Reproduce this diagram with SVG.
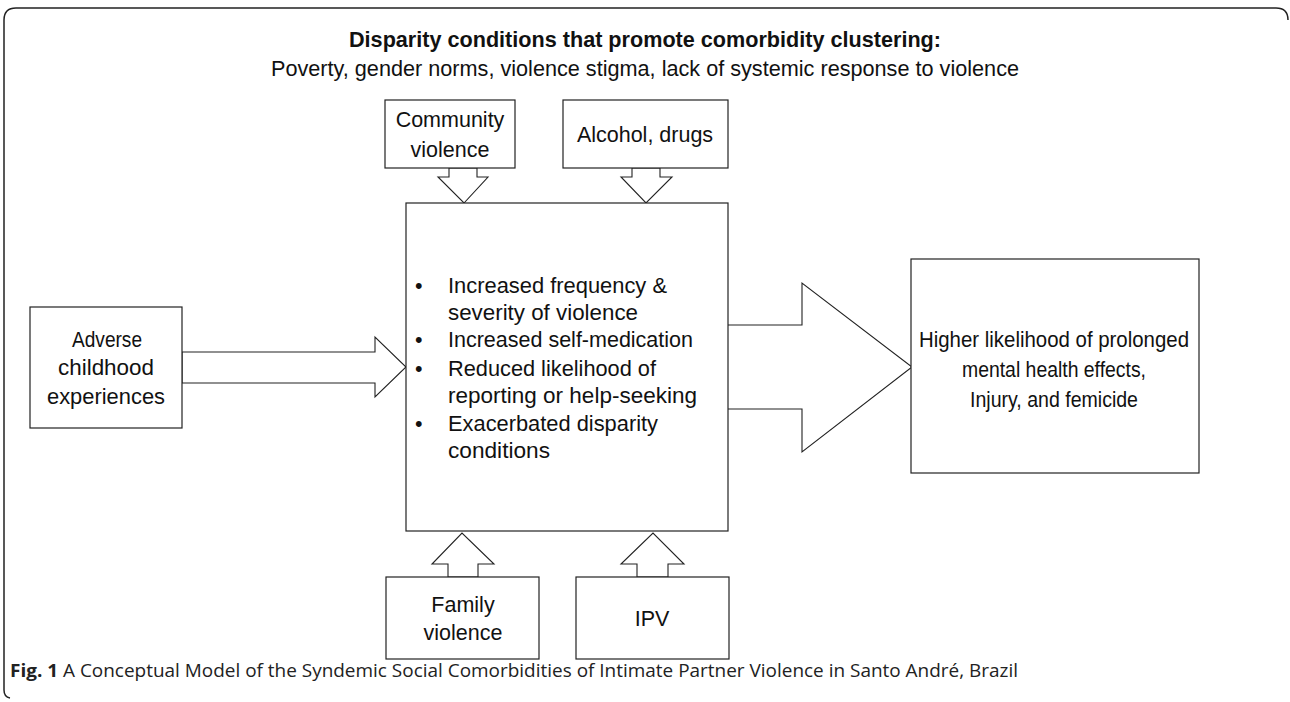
<svg xmlns="http://www.w3.org/2000/svg" width="1290" height="702" viewBox="0 0 1290 702">
<style>
.box{fill:#fff;stroke:#222;stroke-width:1.2}
.arr{fill:#fff;stroke:#222;stroke-width:1.1;stroke-linejoin:miter}
.t{font-family:"Liberation Sans",Arial,sans-serif;font-size:21.5px;fill:#111}
.c{text-anchor:middle}
.cap{font-family:"Open Sans","Liberation Sans",sans-serif;font-size:18px;fill:#222}
</style>
<rect width="1290" height="702" fill="#fff"/>
<path d="M1288 20 Q1288 8 1276 8 L16 8 Q4 8 4 20 L4 690 Q4 697 10 698" fill="none" stroke="#222" stroke-width="1.5"/>
<g id="header">
<text class="t c" x="645" y="47" font-weight="bold" textLength="592" lengthAdjust="spacingAndGlyphs">Disparity conditions that promote comorbidity clustering:</text>
<text class="t c" x="645" y="76" textLength="748" lengthAdjust="spacingAndGlyphs">Poverty, gender norms, violence stigma,  lack of systemic response to violence</text>
</g>
<g id="connectors">
<polygon class="arr" points="449,168 449,177 438,177 464,203 488,177 477,177 477,168"/>
<polygon class="arr" points="632,168 632,177 621,177 646,203 672,177 660,177 660,168"/>
<polygon class="arr" points="448,577 448,564 432,564 462,533 494,564 478,564 478,577"/>
<polygon class="arr" points="637,577 637,564 621,564 653,533 684,564 668,564 668,577"/>
<polygon class="arr" points="182,352 375,352 375,337 406,367 375,397 375,383 182,383"/>
<polygon class="arr" points="727,325 802,325 802,283 912,367 802,452 802,409 727,409"/>
</g>
<g id="community">
<rect class="box" x="385" y="100" width="130" height="68"/>
<text class="t c" x="450" y="127">Community</text>
<text class="t c" x="450" y="157">violence</text>
</g>
<g id="alcohol">
<rect class="box" x="563" y="100" width="165" height="68"/>
<text class="t c" x="645" y="142">Alcohol, drugs</text>
</g>
<g id="center">
<rect class="box" x="406" y="203" width="322" height="328"/>
<g class="t">
<text x="415" y="293">•</text><text x="448" y="293" textLength="219" lengthAdjust="spacingAndGlyphs">Increased frequency &amp;</text>
<text x="448" y="320" textLength="190" lengthAdjust="spacingAndGlyphs">severity of violence</text>
<text x="415" y="347">•</text><text x="448" y="347" textLength="245" lengthAdjust="spacingAndGlyphs">Increased self-medication</text>
<text x="415" y="376">•</text><text x="448" y="376" textLength="208" lengthAdjust="spacingAndGlyphs">Reduced likelihood of</text>
<text x="448" y="403" textLength="249" lengthAdjust="spacingAndGlyphs">reporting or help-seeking</text>
<text x="415" y="431">•</text><text x="448" y="431" textLength="210" lengthAdjust="spacingAndGlyphs">Exacerbated disparity</text>
<text x="448" y="458" textLength="102" lengthAdjust="spacingAndGlyphs">conditions</text>
</g>
</g>
<g id="adverse">
<rect class="box" x="30" y="307" width="152" height="121"/>
<text class="t c" x="107" y="347" textLength="70" lengthAdjust="spacingAndGlyphs">Adverse</text>
<text class="t c" x="106" y="375" textLength="96" lengthAdjust="spacingAndGlyphs">childhood</text>
<text class="t c" x="106" y="404" textLength="118" lengthAdjust="spacingAndGlyphs">experiences</text>
</g>
<g id="outcome">
<rect class="box" x="911" y="259" width="288" height="214"/>
<text class="t c" x="1054" y="347" textLength="270" lengthAdjust="spacingAndGlyphs">Higher likelihood of prolonged</text>
<text class="t c" x="1054" y="377" textLength="184" lengthAdjust="spacingAndGlyphs">mental health effects,</text>
<text class="t c" x="1054" y="407" textLength="168" lengthAdjust="spacingAndGlyphs">Injury, and femicide</text>
</g>
<g id="family">
<rect class="box" x="386" y="577" width="153" height="82"/>
<text class="t c" x="463" y="612">Family</text>
<text class="t c" x="463" y="640">violence</text>
</g>
<g id="ipv">
<rect class="box" x="576" y="577" width="153" height="82"/>
<text class="t c" x="652" y="626">IPV</text>
</g>
<g id="caption">
<text class="cap" x="10" y="677" textLength="1008" lengthAdjust="spacingAndGlyphs"><tspan font-weight="bold">Fig. 1</tspan> A Conceptual Model of the Syndemic Social Comorbidities of Intimate Partner Violence in Santo André, Brazil</text>
</g>
</svg>
